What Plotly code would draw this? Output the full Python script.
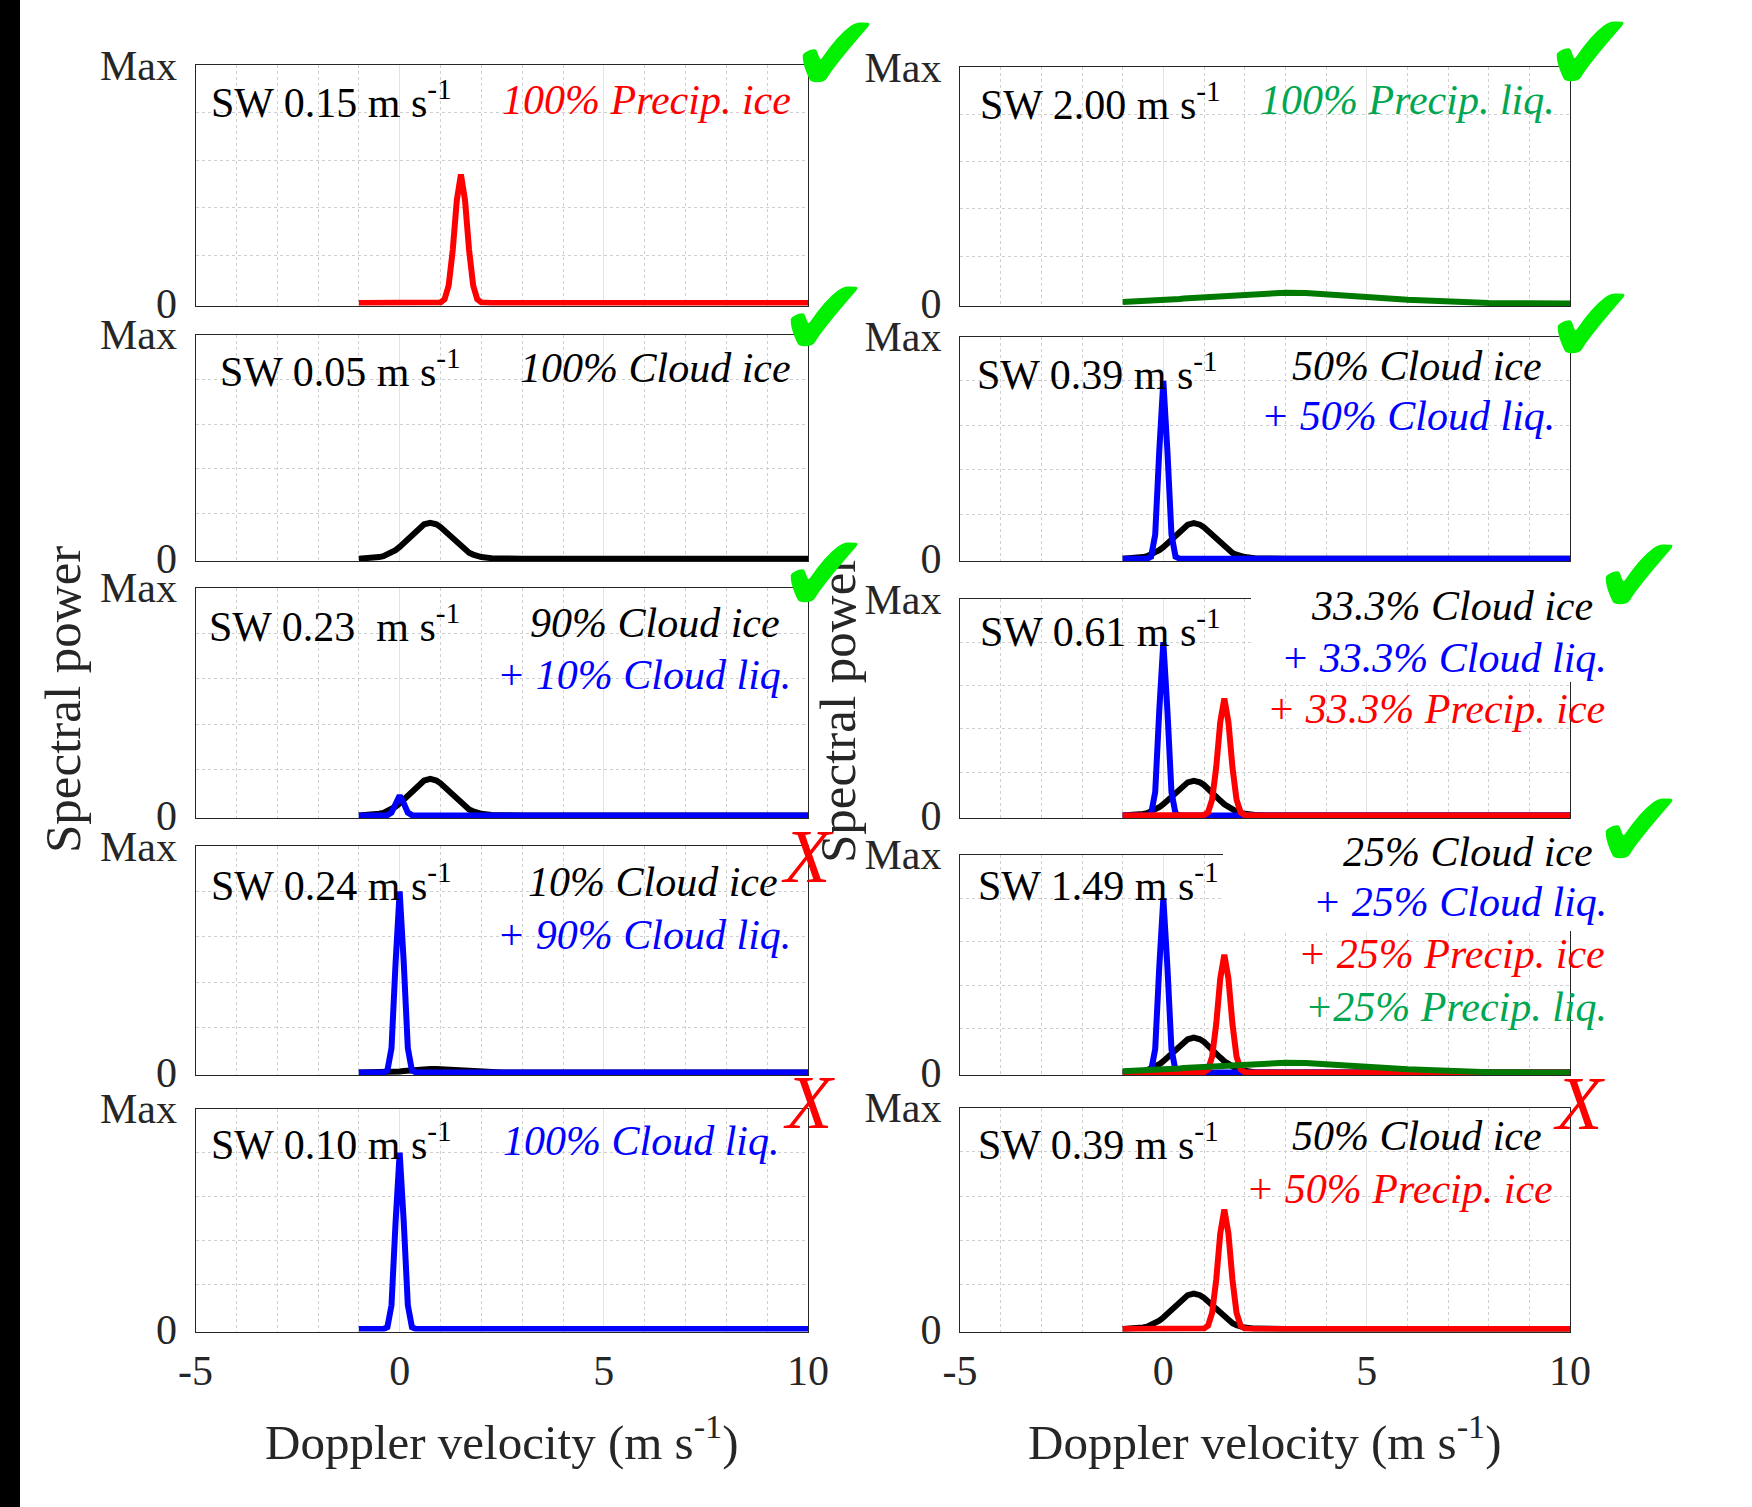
import plotly.graph_objects as go

W, H = 1752, 1507

# ---------------- data ----------------
velocity = [-1.0, -0.8, -0.6, -0.5, -0.4, -0.3, -0.2, -0.1, 0.0, 0.1, 0.2, 0.3,
            0.4, 0.5, 0.6, 0.75, 0.9, 1.0, 1.1, 1.2, 1.3, 1.4, 1.5, 1.6, 1.7,
            1.8, 1.9, 2.0, 2.25, 2.5, 3.0, 3.5, 4.0, 5.0, 6.0, 7.0, 8.0, 9.0, 10.0]

cloud_ice = [0.0, 0.001, 0.004, 0.007, 0.011, 0.018, 0.026, 0.038, 0.052, 0.069,
             0.087, 0.107, 0.125, 0.141, 0.153, 0.160, 0.153, 0.141, 0.125, 0.107,
             0.087, 0.069, 0.052, 0.038, 0.026, 0.018, 0.011, 0.007, 0.002, 0.0,
             0.0, 0.0, 0.0, 0.0, 0.0, 0.0, 0.0, 0.0, 0.0]

cloud_ice_10 = [0.0, 0.0, 0.0, 0.001, 0.001, 0.002, 0.003, 0.004, 0.005, 0.007,
                0.009, 0.011, 0.013, 0.014, 0.015, 0.016, 0.015, 0.014, 0.013, 0.011,
                0.009, 0.007, 0.005, 0.004, 0.003, 0.002, 0.001, 0.001, 0.0, 0.0,
                0.0, 0.0, 0.0, 0.0, 0.0, 0.0, 0.0, 0.0, 0.0]

cloud_liq = [0.0, 0.0, 0.0, 0.0, 0.0, 0.009, 0.108, 0.485, 0.80, 0.485,
             0.108, 0.009, 0.0, 0.0, 0.0, 0.0, 0.0, 0.0, 0.0, 0.0,
             0.0, 0.0, 0.0, 0.0, 0.0, 0.0, 0.0, 0.0, 0.0, 0.0,
             0.0, 0.0, 0.0, 0.0, 0.0, 0.0, 0.0, 0.0, 0.0]

cloud_liq_10 = [0.0, 0.0, 0.0, 0.0, 0.0, 0.001, 0.012, 0.053, 0.087, 0.053,
                0.012, 0.001, 0.0, 0.0, 0.0, 0.0, 0.0, 0.0, 0.0, 0.0,
                0.0, 0.0, 0.0, 0.0, 0.0, 0.0, 0.0, 0.0, 0.0, 0.0,
                0.0, 0.0, 0.0, 0.0, 0.0, 0.0, 0.0, 0.0, 0.0]

precip_ice = [0.0, 0.0, 0.0, 0.0, 0.0, 0.0, 0.0, 0.0, 0.0, 0.0,
              0.0, 0.0, 0.0, 0.0, 0.0, 0.0, 0.0, 0.002, 0.015, 0.073,
              0.222, 0.432, 0.540, 0.432, 0.222, 0.073, 0.015, 0.002, 0.0, 0.0,
              0.0, 0.0, 0.0, 0.0, 0.0, 0.0, 0.0, 0.0, 0.0]

precip_liq = [0.006, 0.007, 0.009, 0.010, 0.011, 0.012, 0.013, 0.014, 0.015, 0.016,
              0.017, 0.018, 0.019, 0.021, 0.022, 0.024, 0.026, 0.027, 0.029, 0.030,
              0.031, 0.033, 0.034, 0.035, 0.036, 0.038, 0.039, 0.040, 0.042, 0.044,
              0.045, 0.044, 0.040, 0.027, 0.015, 0.006, 0.002, 0.001, 0.0]

x_tick_values = [-5, 0, 5, 10]
x_tick_labels = ["-5", "0", "5", "10"]
y_tick_values = [0, 1]
y_tick_labels = ["0", "Max"]

# ---------------- styling ----------------
SERIF = "Liberation Serif"
C = {"black": "#000000", "blue": "#0000FF", "red": "#FF0000",
     "green": "#007A00", "tgreen": "#00A650", "check": "#00F000"}
AXC = "#262626"

series = {"cloud_ice": cloud_ice, "cloud_ice_10": cloud_ice_10,
          "cloud_liq": cloud_liq, "cloud_liq_10": cloud_liq_10,
          "precip_ice": precip_ice, "precip_liq": precip_liq}

LEFT_X = (195.5, 808.0)
RIGHT_X = (960.0, 1570.0)
LEFT_ROWS = [(65, 303), (334.5, 558.6), (587.5, 815.4), (846.3, 1072.5), (1108.5, 1329)]
RIGHT_ROWS = [(67, 303.5), (336.5, 558.6), (599, 815.4), (854.5, 1072.5), (1107.5, 1329)]

panels = [
    ("L", 0, [("precip_ice", "red")]),
    ("L", 1, [("cloud_ice", "black")]),
    ("L", 2, [("cloud_ice", "black"), ("cloud_liq_10", "blue")]),
    ("L", 3, [("cloud_ice_10", "black"), ("cloud_liq", "blue")]),
    ("L", 4, [("cloud_liq", "blue")]),
    ("R", 0, [("precip_liq", "green")]),
    ("R", 1, [("cloud_ice", "black"), ("cloud_liq", "blue")]),
    ("R", 2, [("cloud_ice", "black"), ("cloud_liq", "blue"), ("precip_ice", "red")]),
    ("R", 3, [("cloud_ice", "black"), ("cloud_liq", "blue"), ("precip_ice", "red"),
              ("precip_liq", "green")]),
    ("R", 4, [("cloud_ice", "black"), ("precip_ice", "red")]),
]

YMIN = -0.011
fig = go.Figure()
layout = {}

for i, (col, row, lines) in enumerate(panels):
    n = i + 1
    xs = "" if n == 1 else str(n)
    xr = LEFT_X if col == "L" else RIGHT_X
    top, bot = (LEFT_ROWS if col == "L" else RIGHT_ROWS)[row]
    bot_dom = bot + 2.5
    for name, color in lines:
        fig.add_trace(go.Scatter(
            x=velocity, y=series[name], mode="lines",
            line=dict(color=C[color], width=6),
            xaxis="x" + xs, yaxis="y" + xs, showlegend=False, hoverinfo="skip"))
    layout["xaxis" + xs] = dict(
        domain=[xr[0] / W, xr[1] / W], range=[-5, 10], anchor="y" + xs,
        automargin=False,
        showline=True, mirror=True, linecolor=AXC, linewidth=1.2,
        tickmode="array", tickvals=x_tick_values, ticktext=x_tick_labels,
        showticklabels=(row == 4), ticks="", ticklabelstandoff=2,
        tickfont=dict(family=SERIF, size=42, color=AXC),
        showgrid=True, gridcolor="#e3e3e3", gridwidth=1, zeroline=False,
        minor=dict(dtick=1, tick0=-5, showgrid=True, gridcolor="#cfcfcf",
                   griddash="dot", gridwidth=1),
        fixedrange=True)
    layout["yaxis" + xs] = dict(
        domain=[1 - bot_dom / H, 1 - top / H], range=[YMIN, 1], anchor="x" + xs,
        automargin=False,
        showline=True, mirror=True, linecolor=AXC, linewidth=1.2,
        tickmode="array", tickvals=y_tick_values, ticktext=y_tick_labels,
        ticks="", ticklabelstandoff=9,
        tickfont=dict(family=SERIF, size=42, color=AXC),
        showgrid=False, zeroline=False,
        minor=dict(tickvals=[0.2, 0.4, 0.6, 0.8], showgrid=True, gridcolor="#cfcfcf",
                   griddash="dot", gridwidth=1),
        fixedrange=True)

annotations = []


def ann(xp, yp, text, color="#000000", xanchor="left", size=42, italic=False,
        family=SERIF, angle=0):
    if italic:
        text = "<i>" + text + "</i>"
    annotations.append(dict(
        x=xp / W, y=1 - yp / H, xref="paper", yref="paper", text=text,
        showarrow=False, xanchor=xanchor, yanchor="middle", textangle=angle,
        font=dict(family=family, size=size, color=color)))


S1 = " m s<sup>-1</sup>"
# left column
ann(209, 100, "SW 0.15" + S1)
ann(793, 100, "100% Precip. ice", C["red"], "right", italic=True)
ann(218, 368, "SW 0.05" + S1)
ann(793, 368, "100% Cloud ice", "#000000", "right", italic=True)
ann(207, 623, "SW 0.23&nbsp;" + S1)
ann(782, 623, "90% Cloud ice", "#000000", "right", italic=True)
ann(793, 675, "+ 10% Cloud liq.", C["blue"], "right", italic=True)
ann(209, 882, "SW 0.24" + S1)
ann(780, 882, "10% Cloud ice", "#000000", "right", italic=True)
ann(793, 935, "+ 90% Cloud liq.", C["blue"], "right", italic=True)
ann(209, 1141, "SW 0.10" + S1)
ann(782, 1141, "100% Cloud liq.", C["blue"], "right", italic=True)
# right column
ann(978, 101, "SW 2.00" + S1)
ann(1557, 100, "100% Precip. liq.", C["tgreen"], "right", italic=True)
ann(975, 371, "SW 0.39" + S1)
ann(1544, 366, "50% Cloud ice", "#000000", "right", italic=True)
ann(1557, 416, "+ 50% Cloud liq.", C["blue"], "right", italic=True)
ann(978, 628, "SW 0.61" + S1)
ann(1595, 606, "33.3% Cloud ice", "#000000", "right", italic=True)
ann(1609, 658, "+ 33.3% Cloud liq.", C["blue"], "right", italic=True)
ann(1607, 709, "+ 33.3% Precip. ice", C["red"], "right", italic=True)
ann(976, 882, "SW 1.49" + S1)
ann(1595, 852, "25% Cloud ice", "#000000", "right", italic=True)
ann(1609, 902, "+ 25% Cloud liq.", C["blue"], "right", italic=True)
ann(1607, 954, "+ 25% Precip. ice", C["red"], "right", italic=True)
ann(1609, 1007, "+25% Precip. liq.", C["tgreen"], "right", italic=True)
ann(976, 1141, "SW 0.39" + S1)
ann(1544, 1136, "50% Cloud ice", "#000000", "right", italic=True)
ann(1555, 1189, "+ 50% Precip. ice", C["red"], "right", italic=True)

# axis titles
ann(502, 1438, "Doppler velocity (m s<sup>-1</sup>)", AXC, "center", size=49)
ann(1265, 1438, "Doppler velocity (m s<sup>-1</sup>)", AXC, "center", size=49)
ann(63, 700, "Spectral power", AXC, "center", size=51, angle=-90)
ann(838, 710, "Spectral power", AXC, "center", size=51, angle=-90)

# check marks and crosses
for (cx, cy) in [(836, 54), (824, 318), (824, 574), (1590, 53), (1591, 325),
                 (1639, 576), (1639, 830)]:
    ann(cx, cy, "\u2714", C["check"], "center", size=110, family="DejaVu Sans")
for (cx, cy) in [(807, 856), (809, 1102), (1579, 1103)]:
    ann(cx, cy, "X", C["red"], "center", size=76, italic=True)

shapes = [
    dict(type="rect", xref="paper", yref="paper", x0=0, x1=20 / W, y0=0, y1=1,
         fillcolor="#000000", line=dict(width=0), layer="above"),
    dict(type="rect", xref="paper", yref="paper", x0=1251 / W, x1=1576 / W,
         y0=1 - 682 / H, y1=1 - 593 / H, fillcolor="#FFFFFF", line=dict(width=0),
         layer="above"),
    dict(type="rect", xref="paper", yref="paper", x0=1223 / W, x1=1576 / W,
         y0=1 - 931 / H, y1=1 - 848 / H, fillcolor="#FFFFFF", line=dict(width=0),
         layer="above"),
]

fig.update_layout(
    width=W, height=H, margin=dict(l=0, r=0, t=0, b=0, autoexpand=False),
    paper_bgcolor="#FFFFFF", plot_bgcolor="#FFFFFF",
    annotations=annotations, shapes=shapes, showlegend=False,
    **layout)

fig.write_html(
    "out.html", config={"displayModeBar": False, "responsive": False},
    post_script=("document.documentElement.style.margin='0';"
                 "document.body.style.margin='0';"
                 "document.body.style.overflow='hidden';"))
